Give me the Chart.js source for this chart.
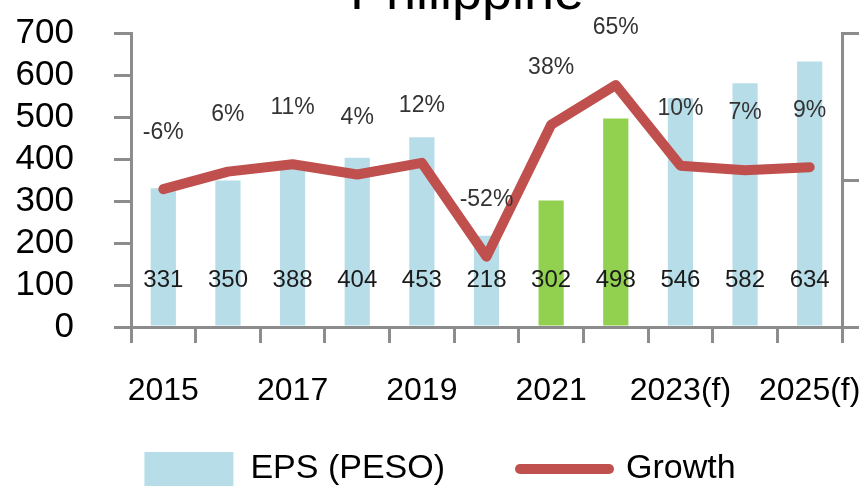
<!DOCTYPE html>
<html>
<head>
<meta charset="utf-8">
<script src="https://cdn.jsdelivr.net/npm/chart.js@4"></script>
<style>
html, body { margin: 0; padding: 0; background: #fff; }
#frame { position: relative; width: 864px; height: 486px; overflow: hidden; }
#chart { position: absolute; left: 0; top: -48px; }
</style>
</head>
<body>
<div id="frame"><canvas id="chart" width="880" height="544"></canvas></div>
<script>
const years = ['2015', '2016', '2017', '2018', '2019', '2020', '2021', '2022', '2023(f)', '2024(f)', '2025(f)'];
const eps = [331, 350, 388, 404, 453, 218, 302, 498, 546, 582, 634];
const growth = [-6, 6, 11, 4, 12, -52, 38, 65, 10, 7, 9];
const greenYears = ['2021', '2022'];

const BLUE = '#b7dde8';
const GREEN = '#92d050';
const RED = '#c0504d';
const AXIS = '#8c8c8c';

Chart.defaults.font.family = '"Liberation Sans", Arial, sans-serif';
Chart.defaults.color = '#000';

// value labels above the line points and near the base of the bars
const valueLabels = {
    id: 'valueLabels',
    afterDatasetsDraw(chart) {
        const ctx = chart.ctx;
        ctx.save();
        ctx.textAlign = 'center';
        ctx.textBaseline = 'middle';
        ctx.font = '24px "Liberation Sans", Arial, sans-serif';
        ctx.fillStyle = '#1a1a1a';
        chart.getDatasetMeta(0).data.forEach((bar, i) => {
            ctx.fillText(String(eps[i]), bar.x, bar.base - 45);
        });
        ctx.font = '23px "Liberation Sans", Arial, sans-serif';
        ctx.fillStyle = '#333';
        chart.getDatasetMeta(1).data.forEach((pt, i) => {
            ctx.fillText(growth[i] + '%', pt.x, pt.y - 57);
        });
        ctx.restore();
    }
};

const ctx = document.getElementById('chart').getContext('2d');
new Chart(ctx, {
    type: 'bar',
    data: {
        labels: years,
        datasets: [{
            label: 'EPS (PESO)',
            data: eps,
            backgroundColor: years.map(y => greenYears.includes(y) ? GREEN : BLUE),
            categoryPercentage: 1,
            barPercentage: 0.39,
            yAxisID: 'y',
            order: 1
        }, {
            type: 'line',
            label: 'Growth',
            data: growth,
            borderColor: RED,
            backgroundColor: RED,
            borderWidth: 10,
            borderCapStyle: 'round',
            borderJoinStyle: 'round',
            pointRadius: 0,
            tension: 0,
            fill: false,
            yAxisID: 'y1',
            order: 0
        }]
    },
    options: {
        responsive: false,
        animation: false,
        events: [],
        layout: { padding: 0 },
        plugins: {
            title: {
                display: true,
                text: '\u2003Philippine',
                color: '#000',
                font: { size: 54, weight: 'normal' },
                padding: { top: 10, bottom: 7 }
            },
            legend: {
                position: 'bottom',
                labels: {
                    usePointStyle: true,
                    pointStyleWidth: 89,
                    boxHeight: 34,
                    padding: 41,
                    color: '#000',
                    font: { size: 34 },
                    // trailing em space widens the gap between the two items
                    generateLabels: () => [{
                        text: 'EPS (PESO)\u2003',
                        fillStyle: BLUE,
                        strokeStyle: BLUE,
                        lineWidth: 0,
                        pointStyle: 'rect',
                        datasetIndex: 0
                    }, {
                        text: 'Growth',
                        fillStyle: 'rgba(0,0,0,0)',
                        strokeStyle: RED,
                        lineWidth: 10,
                        lineCap: 'round',
                        pointStyle: 'line',
                        datasetIndex: 1
                    }]
                }
            },
            tooltip: { enabled: false }
        },
        scales: {
            x: {
                grid: {
                    drawOnChartArea: false,
                    color: AXIS,
                    lineWidth: 3,
                    tickLength: 16
                },
                border: { color: AXIS, width: 3 },
                ticks: {
                    autoSkip: false,
                    maxRotation: 0,
                    minRotation: 0,
                    padding: 7,
                    color: '#000',
                    font: { size: 32, lineHeight: 2.6 },
                    callback: (v, i) => i % 2 === 0 ? years[i] : ''
                },
                afterFit: scale => { scale.height = 84; }
            },
            y: {
                position: 'left',
                min: 0,
                max: 700,
                grid: {
                    drawOnChartArea: false,
                    color: AXIS,
                    lineWidth: 3,
                    tickLength: 17
                },
                border: { color: AXIS, width: 3 },
                ticks: {
                    stepSize: 100,
                    autoSkip: false,
                    padding: 40,
                    color: '#000',
                    font: { size: 35 }
                },
                afterFit: scale => { scale.width = 131; }
            },
            y1: {
                position: 'right',
                min: -100,
                max: 100,
                grid: {
                    drawOnChartArea: false,
                    color: AXIS,
                    lineWidth: 3,
                    tickLength: 17
                },
                border: { color: AXIS, width: 3 },
                ticks: { stepSize: 100, display: false },
                afterFit: scale => { scale.width = 38; }
            }
        }
    },
    plugins: [valueLabels]
});
</script>
</body>
</html>
